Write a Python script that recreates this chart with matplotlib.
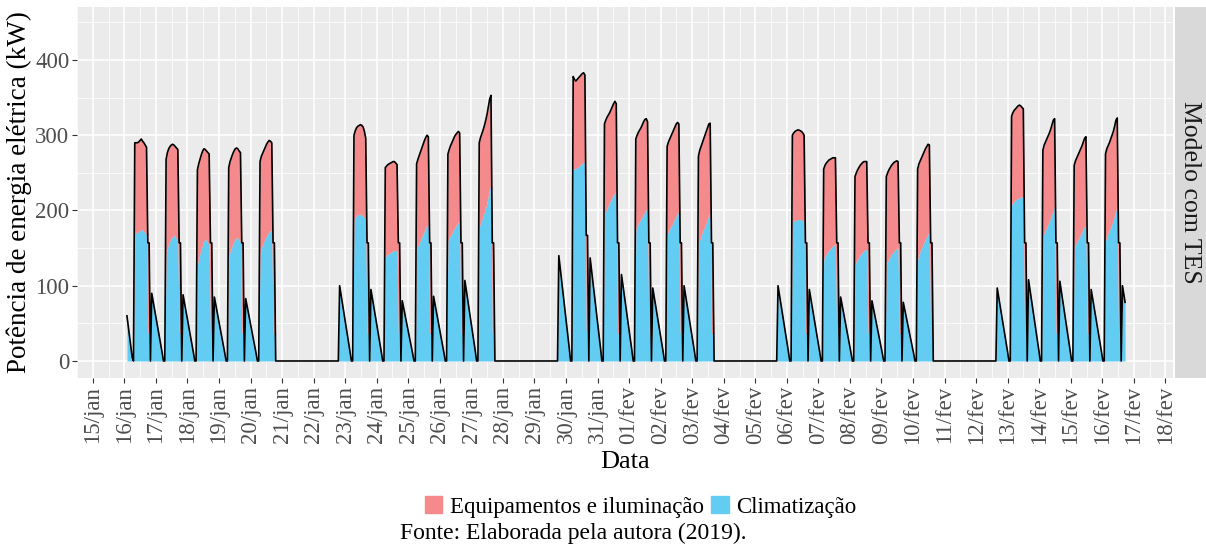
import numpy as np
import matplotlib.pyplot as plt
from matplotlib.patches import Patch

plt.rcParams['font.family'] = ['Liberation Serif', 'DejaVu Serif']

# x axis: one tick per day, 15/jan (day 0) .. 18/fev (day 34)
tick_labels = ["15/jan", "16/jan", "17/jan", "18/jan", "19/jan", "20/jan", "21/jan",
               "22/jan", "23/jan", "24/jan", "25/jan", "26/jan", "27/jan", "28/jan",
               "29/jan", "30/jan", "31/jan", "01/fev", "02/fev", "03/fev", "04/fev",
               "05/fev", "06/fev", "07/fev", "08/fev", "09/fev", "10/fev", "11/fev",
               "12/fev", "13/fev", "14/fev", "15/fev", "16/fev", "17/fev", "18/fev"]

# working days (days after 15/jan) and their hourly demand, 08h..17h (kW)
op_days = [1, 2, 3, 4, 5, 8, 9, 10, 11, 12, 15, 16, 17, 18, 19,
           22, 23, 24, 25, 26, 29, 30, 31, 32]
op_total = [
    [290, 290, 290, 291, 293, 295, 292, 290, 287, 284],
    [268, 277, 282, 285, 287, 288, 287, 285, 283, 281],
    [254, 262, 268, 274, 279, 282, 281, 279, 277, 275],
    [257, 265, 270, 275, 279, 282, 283, 282, 279, 277],
    [265, 272, 276, 280, 284, 288, 291, 293, 292, 290],
    [300, 306, 310, 312, 313, 314, 313, 311, 305, 296],
    [257, 259, 261, 262, 263, 264, 265, 265, 263, 261],
    [262, 268, 273, 278, 283, 288, 293, 297, 300, 298],
    [275, 281, 286, 290, 294, 298, 301, 303, 305, 303],
    [290, 297, 302, 307, 313, 320, 328, 338, 348, 353],
    [378, 374, 372, 374, 376, 378, 380, 382, 383, 380],
    [315, 320, 324, 327, 330, 334, 338, 342, 345, 342],
    [295, 300, 304, 307, 310, 314, 318, 321, 322, 318],
    [285, 291, 295, 299, 303, 307, 311, 315, 317, 315],
    [272, 280, 285, 290, 295, 300, 305, 310, 315, 316],
    [300, 303, 305, 306, 307, 307, 306, 305, 303, 300],
    [255, 260, 263, 265, 267, 268, 269, 270, 270, 270],
    [245, 250, 254, 257, 260, 262, 264, 265, 265, 265],
    [245, 250, 254, 257, 260, 262, 264, 265, 266, 265],
    [255, 262, 266, 270, 274, 278, 282, 285, 288, 287],
    [325, 330, 333, 335, 337, 339, 340, 339, 337, 335],
    [280, 287, 291, 295, 299, 303, 308, 314, 320, 322],
    [260, 266, 270, 274, 278, 282, 286, 291, 296, 298],
    [275, 282, 286, 290, 295, 300, 305, 312, 320, 323],
]
op_clim = [
    [170, 170, 171, 172, 173, 175, 174, 172, 170, 168],
    [142, 150, 156, 160, 163, 166, 167, 165, 162, 160],
    [128, 136, 143, 149, 155, 160, 162, 160, 157, 155],
    [138, 145, 150, 155, 159, 162, 164, 163, 160, 158],
    [143, 150, 155, 159, 163, 166, 169, 172, 173, 172],
    [188, 191, 193, 194, 195, 195, 194, 193, 190, 186],
    [138, 140, 142, 143, 144, 145, 146, 147, 147, 146],
    [148, 153, 157, 161, 165, 169, 173, 177, 180, 181],
    [160, 164, 167, 170, 173, 176, 179, 182, 184, 185],
    [178, 183, 188, 193, 198, 204, 211, 220, 229, 235],
    [255, 255, 256, 257, 258, 260, 261, 263, 264, 265],
    [195, 199, 203, 207, 211, 214, 218, 221, 224, 225],
    [175, 179, 183, 186, 189, 192, 195, 198, 201, 202],
    [168, 172, 176, 179, 182, 186, 189, 193, 196, 198],
    [155, 161, 166, 171, 175, 179, 184, 189, 194, 197],
    [185, 186, 187, 187, 188, 188, 188, 187, 186, 185],
    [135, 139, 142, 145, 147, 149, 151, 153, 154, 155],
    [128, 132, 135, 138, 141, 143, 145, 147, 148, 148],
    [128, 132, 136, 139, 142, 144, 146, 148, 150, 150],
    [135, 141, 146, 150, 154, 158, 162, 166, 169, 170],
    [208, 210, 212, 214, 215, 216, 217, 218, 218, 217],
    [165, 170, 174, 178, 182, 186, 191, 196, 201, 205],
    [150, 154, 158, 161, 165, 168, 172, 176, 179, 180],
    [160, 165, 170, 174, 178, 183, 188, 194, 200, 205],
]
# end-of-day level at 18h and 19h
step_total = [157, 157, 157, 157, 157, 157, 157, 157, 157, 157, 167, 157,
              157, 157, 157, 157, 157, 157, 157, 157, 157, 157, 157, 157]
step_clim = [37, 37, 37, 37, 37, 37, 37, 37, 37, 37, 40, 37,
             37, 37, 37, 37, 37, 37, 37, 37, 37, 37, 37, 37]

# night storage charging (starts 21h on the listed day)
night_days = [1, 2, 3, 4, 7, 8, 9, 10, 11, 14, 15, 16, 17, 18,
              21, 22, 23, 24, 25, 28, 29, 30, 31, 32]
night_peak = [90, 88, 85, 83, 100, 95, 80, 86, 107, 140, 137, 115, 97, 100,
              100, 95, 85, 80, 78, 97, 108, 106, 95, 100]
night_shape = [1.0, 0.89, 0.78, 0.67, 0.56, 0.45, 0.34, 0.23, 0.12, 0.0]

# first hours of the series (16/jan, 02h..07h)
first_vals = [60, 46, 32, 18, 5, 0]

n = 32 * 24 + 24
tot = np.full(n, np.nan)
clim = np.full(n, np.nan)
tot[26:] = 0
clim[26:] = 0
for k, v in enumerate(first_vals):
    tot[26 + k] = v
    clim[26 + k] = v
for i, d in enumerate(op_days):
    for j in range(10):
        tot[d * 24 + 8 + j] = op_total[i][j]
        clim[d * 24 + 8 + j] = op_clim[i][j]
    for h in (18, 19):
        tot[d * 24 + h] = step_total[i]
        clim[d * 24 + h] = step_clim[i]
for d, p in zip(night_days, night_peak):
    for k, f in enumerate(night_shape):
        t = d * 24 + 21 + k
        if t < n:
            tot[t] = p * f
            clim[t] = p * f

# hour index -> position in days on the date axis
hours = np.arange(n)
x = (26 + (hours - 26) * 24 / 24.18) / 24.0

red = '#F48A8C'
blue = '#63CCF2'

fig = plt.figure(figsize=(12.06, 5.49), dpi=100)
ax = fig.add_axes([77 / 1206, 1 - 378 / 549, (1173 - 77) / 1206, (378 - 7) / 549])
ax.set_facecolor('#EBEBEB')
ax.fill_between(x, 0, clim, color=blue, lw=0)
ax.fill_between(x, clim, tot, color=red, lw=0)
ax.plot(x, tot, color='black', lw=1.2)

ax.set_xlim(-0.49, 34.24)
ax.set_ylim(-22.6, 470.4)
ax.set_xticks(range(35))
ax.set_xticklabels(tick_labels, rotation=90, fontsize=16.5, color='#4D4D4D')
ax.set_xticks(np.arange(-0.5, 34.5, 1), minor=True)
ax.set_yticks([0, 100, 200, 300, 400])
ax.set_yticklabels(['0', '100', '200', '300', '400'], fontsize=16.5, color='#4D4D4D')
ax.set_yticks([50, 150, 250, 350, 450], minor=True)
ax.grid(which='major', color='white', lw=1.1)
ax.grid(which='minor', color='white', lw=0.55)
ax.set_axisbelow(True)
ax.tick_params(which='major', length=3.5, width=0.8, color='#333333', pad=2)
ax.tick_params(which='minor', length=0)
for s in ax.spines.values():
    s.set_visible(False)

ax.set_xlabel('Data', fontsize=19, labelpad=5)
ax.set_ylabel('Potência de energia elétrica (kW)', fontsize=19.5, labelpad=2)

# facet strip
sx = fig.add_axes([1175 / 1206, 1 - 378 / 549, 31 / 1206, (378 - 7) / 549])
sx.set_facecolor('#D9D9D9')
sx.set_xticks([])
sx.set_yticks([])
for s in sx.spines.values():
    s.set_visible(False)
sx.text(0.5, 0.5, 'Modelo com TES', rotation=-90, ha='center', va='center',
        fontsize=18.5, color='#1A1A1A', transform=sx.transAxes)

handles = [Patch(color=red, label='Equipamentos e iluminação'),
           Patch(color=blue, label='Climatização')]
fig.legend(handles=handles, loc='center', bbox_to_anchor=(641 / 1206, 1 - 507 / 549),
           ncol=2, frameon=False, fontsize=16.5, handlelength=0.75, handleheight=0.75,
           handletextpad=0.35, columnspacing=0.3)
fig.text(573 / 1206, 1 - 533 / 549, 'Fonte: Elaborada pela autora (2019).',
         ha='center', va='center', fontsize=17)

fig.savefig('out.png', dpi=100)
